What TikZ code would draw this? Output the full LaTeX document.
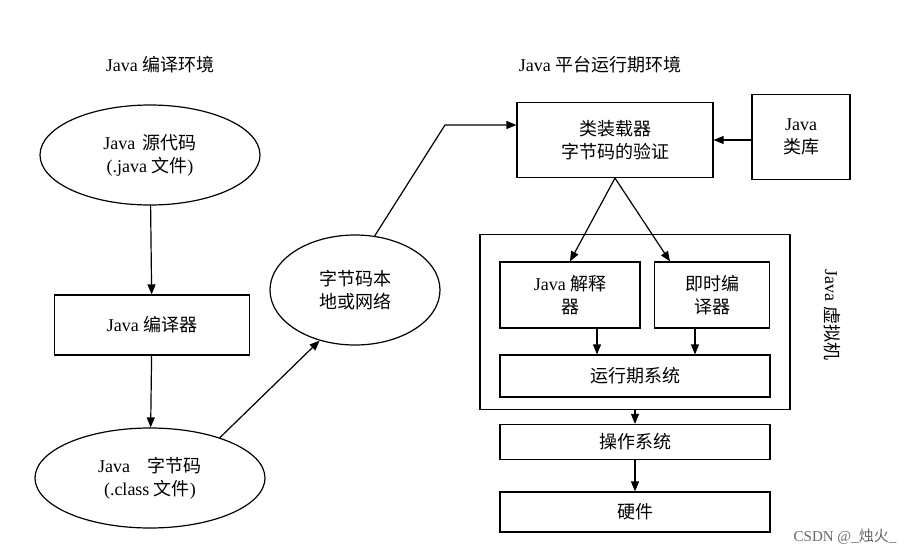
\documentclass[tikz,border=0pt]{standalone}
\usepackage{fontspec}
\setmainfont{Liberation Serif}
\newfontfamily\cjk{Noto Sans CJK SC}
\usetikzlibrary{shapes.geometric,arrows.meta}
\begin{document}
\begin{tikzpicture}[x=1pt,y=-1pt,line width=1.2pt,
  box/.style={draw,align=center,inner sep=0pt,font=\fontsize{18}{23}\selectfont},
  ell/.style={draw,ellipse,align=center,inner sep=0pt,font=\fontsize{18}{23}\selectfont},
  lab/.style={font=\fontsize{18}{23}\selectfont},
  arr/.style={-{Triangle[length=10pt,width=8pt]}}]
\useasboundingbox (0,0) rectangle (919,555);
\node[lab] (t1) at (160,65) {Java {\cjk 编译环境}};
\node[lab] (t2) at (600,65) {Java {\cjk 平台运行期环境}};
\node[ell,minimum width=220,minimum height=100] (src) at (150,155) {Java\, {\cjk 源代码}\\(.java {\cjk 文件})};
\node[box,minimum width=195,minimum height=60] (comp) at (152,325) {Java {\cjk 编译器}};
\node[ell,minimum width=230,minimum height=100] (bc) at (150,478) {Java\quad{\cjk 字节码}\\(.class {\cjk 文件})};
\node[ell,minimum width=170,minimum height=110] (net) at (355,290) {{\cjk 字节码本}\\{\cjk 地或网络}};
\node[box,minimum width=196,minimum height=75] (load) at (615,140) {{\cjk 类装载器}\\{\cjk 字节码的验证}};
\node[box,minimum width=98,minimum height=85] (lib) at (801,137) {Java\\{\cjk 类库}};
\node[draw,minimum width=310,minimum height=175,inner sep=0pt] (jvm) at (635,322) {};
\node[box,minimum width=140,minimum height=66] (interp) at (570,295) {Java {\cjk 解释}\\{\cjk 器}};
\node[box,minimum width=115,minimum height=66] (jit) at (712,295) {{\cjk 即时编}\\{\cjk 译器}};
\node[box,minimum width=270,minimum height=42] (rt) at (635,376) {\cjk 运行期系统};
\node[box,minimum width=270,minimum height=35] (os) at (635,442) {\cjk 操作系统};
\node[box,minimum width=270,minimum height=40] (hw) at (635,512) {\cjk 硬件};
\node[lab,rotate=-90] (jvml) at (832,315) {Java {\cjk 虚拟机}};
\node[font=\fontsize{15}{17}\selectfont,text=gray!80!black] (csdn) at (845,537) {CSDN @\_{\cjk 烛火}\_};
\coordinate (k) at (445,125);
\draw[arr] (src) -- (comp);
\draw[arr] (comp) -- (bc);
\draw[arr] (bc.30) -- (net.235);
\draw[arr] (net.70) -- (k) -- (load.west |- k);
\draw[arr] (lib.west |- load) -- (load.east);
\draw[arr] (load.south) -- (interp.north);
\draw[arr] (load.south) -- (jit.north -| 670,0);
\draw[arr] (interp.south -| 597,0) -- (rt.north -| 597,0);
\draw[arr] (jit.south -| 695,0) -- (rt.north -| 695,0);
\draw[arr] (jvm.south) -- (os.north);
\draw[arr] (os.south) -- (hw.north);
\end{tikzpicture}
\end{document}
